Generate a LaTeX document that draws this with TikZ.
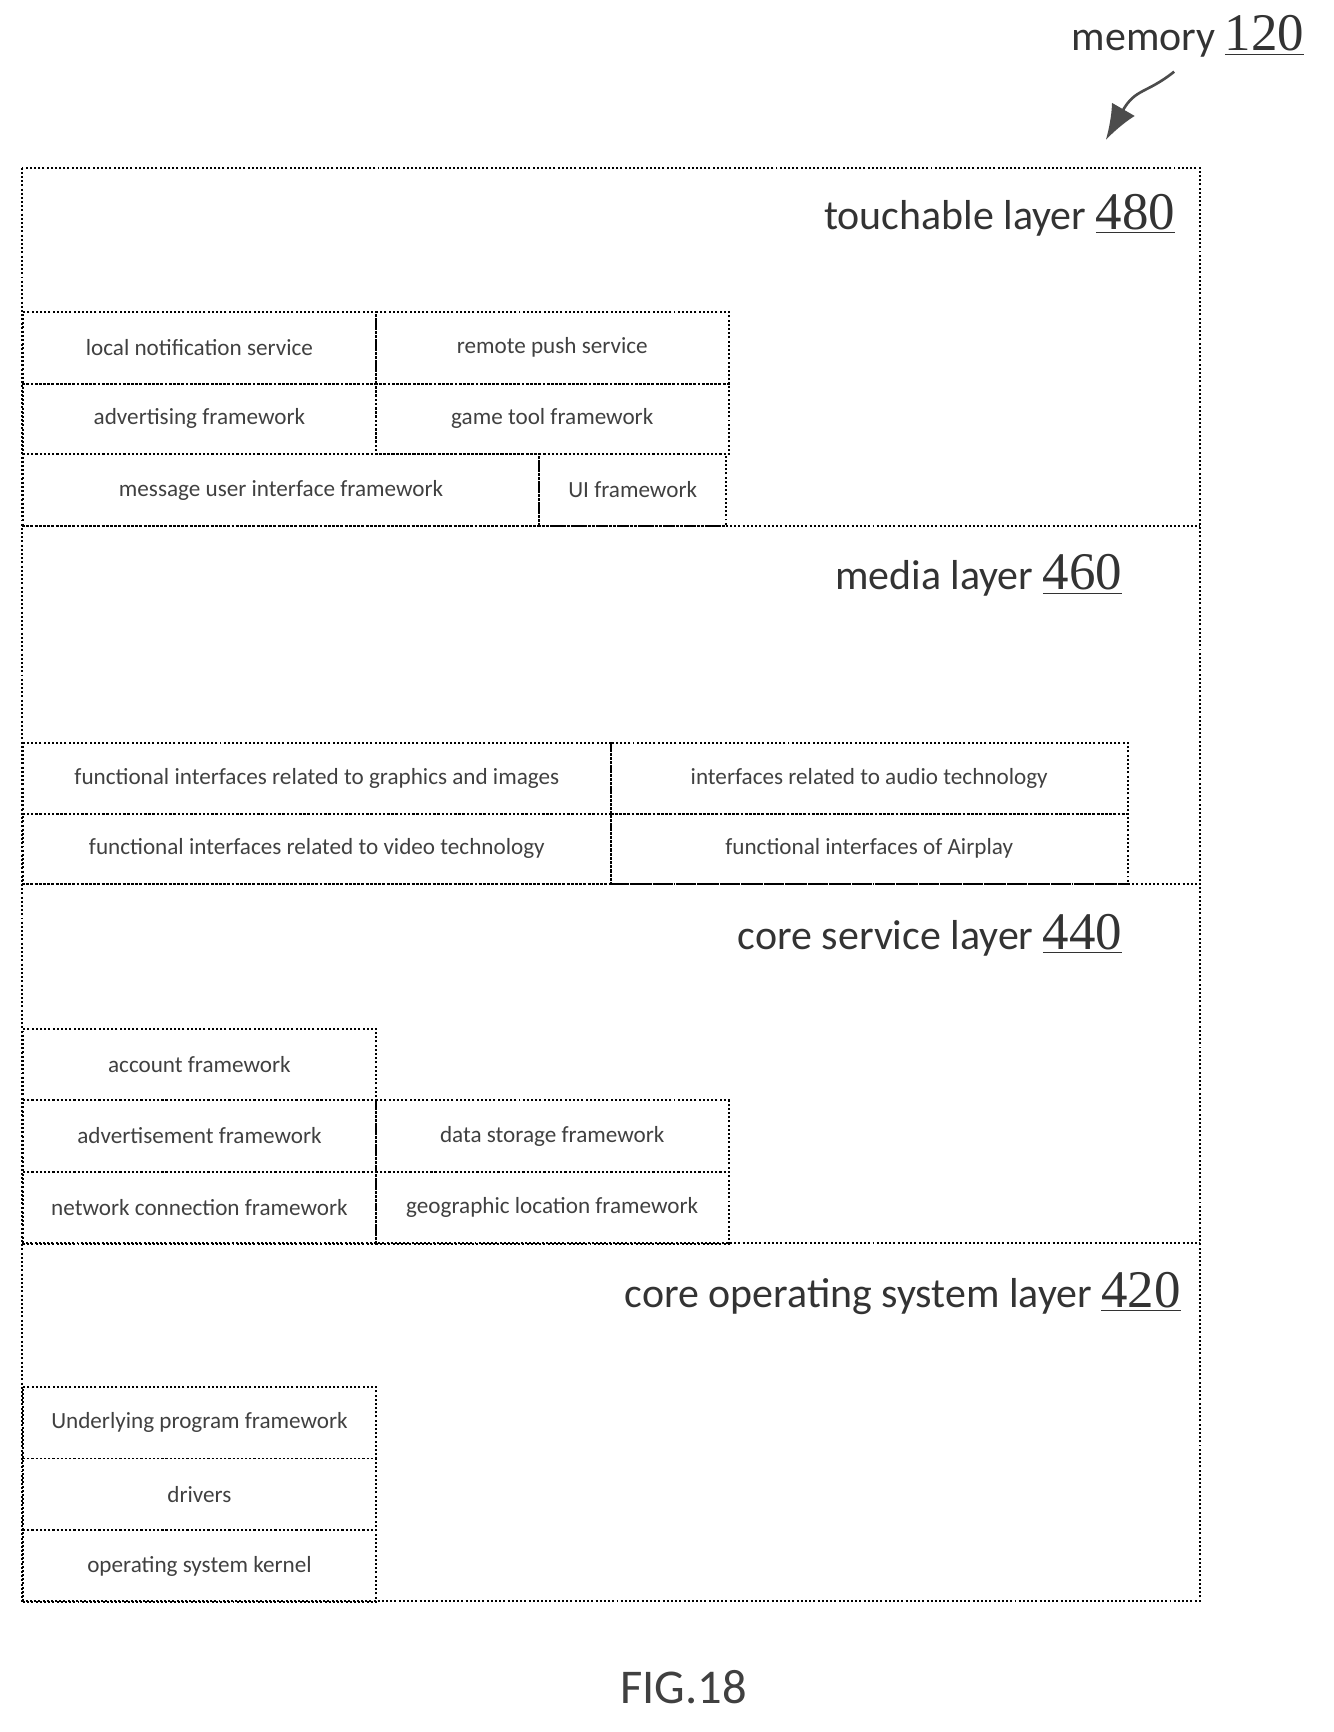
\documentclass[tikz,border=0pt]{standalone}
\usepackage{fontspec}
\setmainfont{Carlito}
\newfontfamily\numfont{Liberation Serif}
\usetikzlibrary{positioning,arrows.meta}
\tikzset{
  cell/.style={draw, densely dotted, line width=0.9pt, anchor=north west, inner sep=0pt,
    font=\fontsize{10.5}{12}\selectfont, text=black!75},
  layername/.style={anchor=east, font=\fontsize{19}{21}\selectfont, text=black!80},
  frame/.style={draw, densely dotted, line width=0.9pt}
}
\newcommand{\refnum}[1]{{\numfont\fontsize{24}{26}\selectfont\underline{#1}}}
\begin{document}
\begin{tikzpicture}[x=0.5pt,y=-0.5pt]
\useasboundingbox (0,0) rectangle (1210,1571);
% outer memory frame and layers
\draw[frame] (20,152) rectangle (1088,1452);
\foreach \y in {477,802,1127} {
	\draw[frame] (20,\y) -- (1088,\y);
}
\node[layername] (touch) at (1073,195) {touchable layer \refnum{480}};
\node[layername] (media) at (1025,522) {media layer \refnum{460}};
\node[layername] (coreserv) at (1025,848) {core service layer \refnum{440}};
\node[layername] (coreos) at (1078,1173) {core operating system layer \refnum{420}};
% touchable layer
\node[cell, minimum width=160pt, minimum height=32.5pt] (notif) at (20,282) {local notification service};
\node[cell, minimum width=160pt, minimum height=32.5pt] (push) at (340,282) {remote push service};
\node[cell, minimum width=160pt, minimum height=32pt] (advfw) at (20,347) {advertising framework};
\node[cell, minimum width=160pt, minimum height=32pt] (game) at (340,347) {game tool framework};
\node[cell, minimum width=234pt, minimum height=32.5pt] (msgui) at (20,411) {message user interface framework};
\node[cell, minimum width=85pt, minimum height=32.5pt] (uifw) at (488,411) {UI framework};
% media layer
\node[cell, minimum width=266.5pt, minimum height=32pt] (graph) at (20,673) {functional interfaces related to graphics and images};
\node[cell, minimum width=234.5pt, minimum height=32pt] (audio) at (553,673) {interfaces related to audio technology};
\node[cell, minimum width=266.5pt, minimum height=32pt] (video) at (20,737) {functional interfaces related to video technology};
\node[cell, minimum width=234.5pt, minimum height=32pt] (airplay) at (553,737) {functional interfaces of Airplay};
% core service layer
\node[cell, minimum width=160pt, minimum height=32.5pt] (account) at (20,932) {account framework};
\node[cell, minimum width=160pt, minimum height=32.5pt] (advert) at (20,997) {advertisement framework};
\node[cell, minimum width=160pt, minimum height=32.5pt] (storage) at (340,997) {data storage framework};
\node[cell, minimum width=160pt, minimum height=32.5pt] (network) at (20,1062) {network connection framework};
\node[cell, minimum width=160pt, minimum height=32.5pt] (geo) at (340,1062) {geographic location framework};
% core operating system layer
\node[cell, minimum width=160pt, minimum height=32.5pt] (underlying) at (20,1257) {Underlying program framework};
\node[cell, minimum width=160pt, minimum height=32.5pt] (drivers) at (20,1322) {drivers};
\node[cell, minimum width=160pt, minimum height=32.5pt] (kernel) at (20,1387) {operating system kernel};
% memory label and arrow
\node[anchor=east, font=\fontsize{19}{21}\selectfont, text=black!80] (memory) at (1190,33) {memory \refnum{120}};
\coordinate (memtip) at (1003,127);
\draw[line width=1.2pt, -{Latex[length=16pt,width=12pt]}, black!70] (1065,65) .. controls (1040,85) and (1030,80) .. (memtip);
\node[font=\fontsize{22}{24}\selectfont, text=black!75] (fig) at (620,1530) {FIG.18};
\end{tikzpicture}
\end{document}
